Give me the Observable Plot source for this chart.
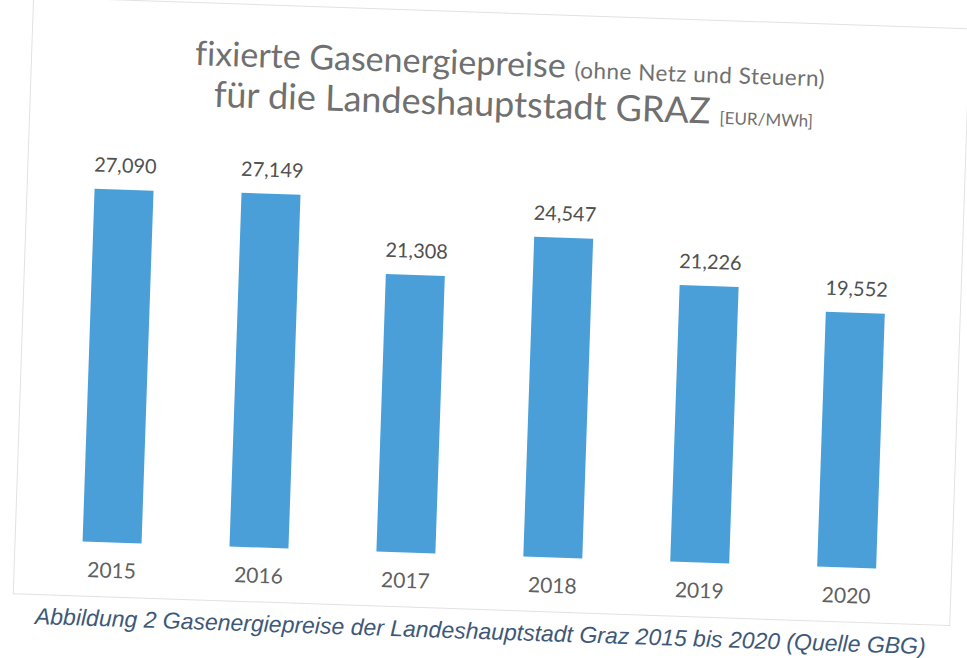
<!DOCTYPE html>
<html><head><meta charset="utf-8">
<script src="https://cdn.jsdelivr.net/npm/d3@7"></script>
<script src="https://cdn.jsdelivr.net/npm/@observablehq/plot@0.6"></script>
<style>
body{margin:0;background:#fff;overflow:hidden;}
#wrap{position:relative;width:967px;height:658px;transform:rotate(1.95deg);transform-origin:483px 330px;}
#frame{position:absolute;left:22px;top:12px;width:936px;height:596px;border:1px solid #e2e2e2;}
.tl{position:absolute;white-space:nowrap;font-family:Lato,"Open Sans",sans-serif;color:#707070;line-height:38px;font-variant-ligatures:none;}
#t1{left:186px;top:43px;font-size:34px;}
#t2{left:206px;top:83px;font-size:36px;}
#t1 small{font-size:22.5px;letter-spacing:0.5px;}
#t2 small{font-size:17px;}
#chart{position:absolute;left:0;top:125px;}
#caption{position:absolute;left:45px;top:618px;font-family:"Liberation Sans",Arial,sans-serif;font-style:italic;font-size:23px;color:#3d5878;white-space:nowrap;}
</style></head>
<body>
<div id="wrap">
<div id="frame"></div>
<div class="tl" id="t1">fixierte Gasenergiepreise <small>(ohne Netz und Steuern)</small></div>
<div class="tl" id="t2">für die Landeshauptstadt GRAZ <small>[EUR/MWh]</small></div>
<div id="chart"></div>
<div id="caption">Abbildung 2 Gasenergiepreise der Landeshauptstadt Graz 2015 bis 2020 (Quelle GBG)</div>
</div>
<script>
const years = ["2015","2016","2017","2018","2019","2020"];
const prices = [27.090, 27.149, 21.308, 24.547, 21.226, 19.552];
const labels = ["27,090","27,149","21,308","24,547","21,226","19,552"];
const data = years.map((y,i)=>({year:y, price:prices[i], label:labels[i]}));
const chart = Plot.plot({
  width: 967, height: 480,
  marginLeft: 46, marginRight: 39, marginTop: 39, marginBottom: 50,
  style:{fontFamily:"Lato, 'Open Sans', sans-serif", background:"transparent"},
  x:{domain:years, padding:0.6, paddingOuter:0.3, label:null, axis:null},
  y:{domain:[0,30], axis:null},
  marks:[
    Plot.barY(data,{x:"year", y:"price", fill:"#4b9fd8"}),
    Plot.ruleY([0],{stroke:"#d4d4d4", x1:35, x2:930}),
    Plot.text(data,{x:"year", y:"price", text:"label", dy:-24, fontSize:20, fill:"#505050"}),
    Plot.axisX({tickSize:0, tickPadding:20, fontSize:21, fill:"#606060", label:null})
  ]
});
document.getElementById("chart").appendChild(chart);
</script>
</body></html>
